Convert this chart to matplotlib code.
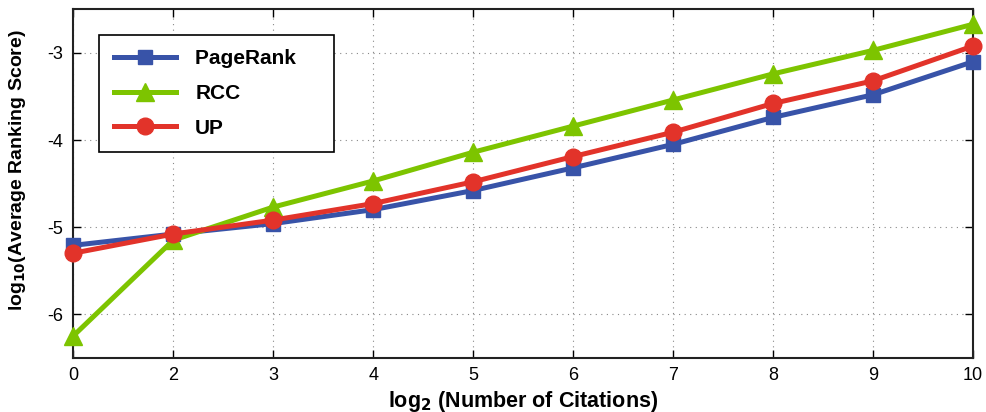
import numpy as np
from matplotlib import pyplot as plt

plt.rcParams['font.family'] = ['Liberation Sans', 'DejaVu Sans']

# x axis : log2 of number of citations (1 is missing in the data)
x_labels = ['0', '2', '3', '4', '5', '6', '7', '8', '9', '10']
pagerank = [-5.21, -5.08, -4.96, -4.80, -4.58, -4.32, -4.05, -3.74, -3.48, -3.10]
rcc = [-6.25, -5.15, -4.77, -4.47, -4.14, -3.84, -3.54, -3.24, -2.97, -2.67]
up = [-5.30, -5.08, -4.92, -4.73, -4.48, -4.19, -3.91, -3.58, -3.32, -2.92]

c_blue = '#3853A8'
c_green = '#7DC400'
c_red = '#E2332A'

fig = plt.figure(figsize=(9.87, 4.12), dpi=100)
ax = fig.add_axes([0.0743, 0.132, 0.9115, 0.845])

x = np.arange(len(x_labels))
ax.plot(x, pagerank, color=c_blue, lw=3.6, marker='s', ms=9.5, label='PageRank', clip_on=False, zorder=3)
ax.plot(x, rcc, color=c_green, lw=3.6, marker='^', ms=13, label='RCC', clip_on=False, zorder=3)
ax.plot(x, up, color=c_red, lw=3.6, marker='o', ms=12, label='UP', clip_on=False, zorder=3)

ax.set_xlim(0, len(x_labels) - 1)
ax.set_ylim(-6.5, -2.5)
ax.set_xticks(x)
ax.set_xticklabels(x_labels)
ax.set_yticks([-6, -5, -4, -3])
ax.set_yticklabels(['-6', '-5', '-4', '-3'])

ax.grid(True, linestyle=(0, (1, 4)), color='#888888', lw=0.8)
ax.tick_params(direction='in', top=True, right=True, length=6, width=1,
               labelsize=13, pad=7)
for s in ax.spines.values():
    s.set_linewidth(1.5)
    s.set_color('#222222')

ax.set_xlabel(r'log$_\mathbf{2}$ (Number of Citations)', fontsize=15.5,
              fontweight='bold', labelpad=3)
ax.set_ylabel(r'log$_\mathbf{10}$(Average Ranking Score)', fontsize=14,
              fontweight='bold')
ax.yaxis.set_label_coords(-0.05, 0.54)

# trailing spaces widen the box like the original legend
leg = ax.legend(['PageRank    ', 'RCC', 'UP'], loc='upper left',
                bbox_to_anchor=(0.022, 0.945), fancybox=False,
                edgecolor='black', prop={'weight': 'bold', 'size': 15},
                handlelength=3.0, borderpad=0.7, labelspacing=0.75,
                handletextpad=0.9, borderaxespad=0.3)
leg.get_frame().set_linewidth(1.2)
leg.get_frame().set_alpha(1)

plt.savefig('out.png', dpi=100)
